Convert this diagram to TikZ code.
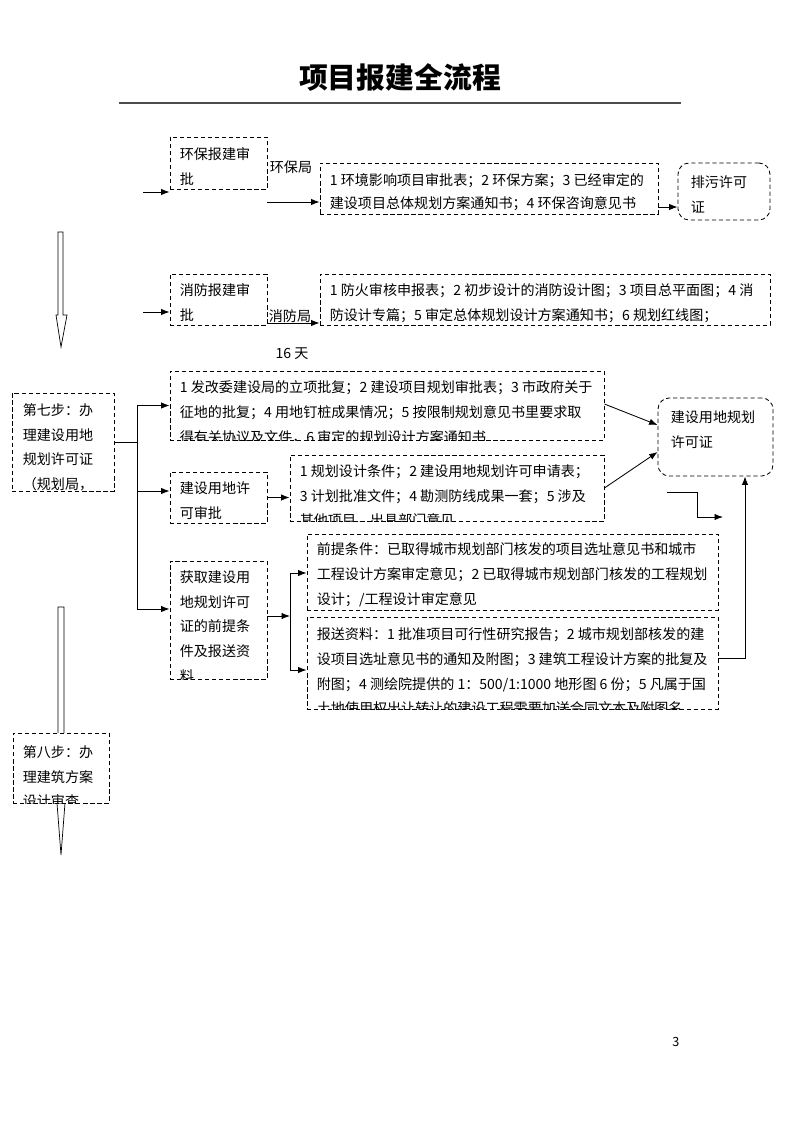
\documentclass[tikz,border=0pt]{standalone}
\usepackage{fontspec}
\setmainfont{Noto Sans CJK SC}
\usetikzlibrary{arrows.meta,fit,calc}

\tikzset{
  dbox/.style={draw,dash pattern=on 3pt off 2pt,line width=0.6pt,inner sep=0pt,fill=white},
  rbox/.style={dbox,rounded corners=8pt},
  txt/.style={anchor=north west,inner sep=0pt,align=left,font=\fontsize{10pt}{17.5pt}\selectfont},
  lbl/.style={inner sep=0pt,font=\fontsize{10pt}{12pt}\selectfont},
  arr/.style={-{Latex[length=6pt,width=4.5pt]},line width=0.6pt},
  hollow/.style={draw,fill=white,line width=0.5pt},
}

\begin{document}
\begin{tikzpicture}[x=0.025cm,y=-0.025cm]
\useasboundingbox (0,0) rectangle (800,1132);

% title
\node[font=\fontsize{20.5pt}{24pt}\selectfont\bfseries] (title) at (400,77) {项目报建全流程};
\draw[line width=0.8pt,black!70] (119,103) -- (681,103);

% hollow arrows between the steps
\draw[hollow] (58,232) -- (63,232) -- (63,315) -- (67,315) -- (61,347) -- (56,315) -- (58,315) -- cycle;
\draw[hollow] (58,607) -- (64,607) -- (64,790) -- (66,790) -- (61,855) -- (56,790) -- (58,790) -- cycle;

% boxes
\node[dbox,fit={(170,137) (267,189)}] (hbsp) {};
\node[dbox,fit={(320,163) (658,214)}] (hbzl) {};
\node[rbox,fit={(678,163) (770,220)}] (pwxk) {};
\node[dbox,fit={(170,274) (267,325)}] (xfsp) {};
\node[dbox,fit={(320,274) (770,325)}] (xfzl) {};
\node[dbox,fit={(12,393) (114,491)}] (step7) {};
\node[dbox,fit={(170,371) (604,440)}] (lxzl) {};
\node[dbox,fit={(170,472) (267,523)}] (ydsp) {};
\node[dbox,fit={(290,455) (604,521)}] (ydzl) {};
\node[rbox,fit={(658,398) (773,476)}] (ydxk) {};
\node[dbox,fit={(170,561) (267,679)}] (hqtj) {};
\node[dbox,fit={(307,534) (718,610)}] (qttj) {};
\node[dbox,fit={(307,617) (718,709)}] (bszl) {};
\node[dbox,fit={(13,733) (109,803)}] (step8) {};

% texts in the boxes
\node[txt] (hbspt) at ($(hbsp.north west)+(10,11)$) {环保报建审\\批};
\node[txt,font=\fontsize{10pt}{16.5pt}\selectfont] (hbzlt) at ($(hbzl.north west)+(10,11)$) {1 环境影响项目审批表；2 环保方案；3 已经审定的\\建设项目总体规划方案通知书；4 环保咨询意见书};
\node[txt] (pwxkt) at ($(pwxk.north west)+(13,13)$) {排污许可\\证};
\node[txt] (xfspt) at ($(xfsp.north west)+(10,10)$) {消防报建审\\批};
\node[txt] (xfzlt) at ($(xfzl.north west)+(10,10)$) {1 防火审核申报表；2 初步设计的消防设计图；3 项目总平面图；4 消\\防设计专篇；5 审定总体规划设计方案通知书；6 规划红线图；};
\begin{scope}
  \clip (step7.south west) rectangle (step7.north east);
  \node[txt] (step7t) at ($(step7.north west)+(11,11)$) {第七步：办\\理建设用地\\规划许可证\\（规划局，};
\end{scope}
\begin{scope}
  \clip (lxzl.south west) rectangle (lxzl.north east);
  \node[txt] (lxzlt) at ($(lxzl.north west)+(10,10)$) {1 发改委建设局的立项批复；2 建设项目规划审批表；3 市政府关于\\征地的批复；4 用地钉桩成果情况；5 按限制规划意见书里要求取\\得有关协议及文件，6 审定的规划设计方案通知书};
\end{scope}
\node[txt] (ydspt) at ($(ydsp.north west)+(10,10)$) {建设用地许\\可审批};
\begin{scope}
  \clip (ydzl.south west) rectangle (ydzl.north east);
  \node[txt] (ydzlt) at ($(ydzl.north west)+(10,10)$) {1 规划设计条件；2 建设用地规划许可申请表；\\3 计划批准文件；4 勘测防线成果一套；5 涉及\\其他项目，出具部门意见};
\end{scope}
\node[txt] (ydxkt) at ($(ydxk.north west)+(13,13)$) {建设用地规划\\许可证};
\begin{scope}
  \clip (hqtj.south west) rectangle (hqtj.north east);
  \node[txt] (hqtjt) at ($(hqtj.north west)+(10,10)$) {获取建设用\\地规划许可\\证的前提条\\件及报送资\\料};
\end{scope}
\node[txt] (qttjt) at ($(qttj.north west)+(10,9)$) {前提条件：已取得城市规划部门核发的项目选址意见书和城市\\工程设计方案审定意见；2 已取得城市规划部门核发的工程规划\\设计；/工程设计审定意见};
\begin{scope}
  \clip (bszl.south west) rectangle (bszl.north east);
  \node[txt] (bszlt) at ($(bszl.north west)+(10,11)$) {报送资料：1 批准项目可行性研究报告；2 城市规划部核发的建\\设项目选址意见书的通知及附图；3 建筑工程设计方案的批复及\\附图；4 测绘院提供的 1：500/1:1000 地形图 6 份；5 凡属于国\\土地使用权出让转让的建设工程需要加送合同文本及附图名};
\end{scope}
\begin{scope}
  \clip (step8.south west) rectangle (step8.north east);
  \node[txt] (step8t) at ($(step8.north west)+(10,13)$) {第八步：办\\理建筑方案\\设计审查};
\end{scope}

% labels
\node[lbl] (hbj) at (291,167) {环保局};
\node[lbl] (xfj) at (290,316) {消防局};
\node[lbl] (days) at (292,354) {16 天};
\node[font=\fontsize{9pt}{11pt}\selectfont] (page) at (676,1042) {3};

% connectors
\coordinate (inhb) at (143,192);
\coordinate (inxf) at (143,312);
\coordinate (jf) at (137,442);
\coordinate (jk) at (290,616);
\coordinate (zs) at (667,492);
\coordinate (ze) at (723,517);

\draw[arr] (inhb) -- (inhb -| hbsp.west);
\draw[arr] (hbsp.east |- 0,202) -- (hbzl.west |- 0,202);
\draw[arr] (hbzl.east |- 0,207) -- (pwxk.west |- 0,207);
\draw[arr] (inxf) -- (inxf -| xfsp.west);
\draw[arr] (xfsp.east |- 0,323) -- (xfzl.west |- 0,323);

\draw[line width=0.6pt] (step7.east |- jf) -- (jf);
\draw[arr] (jf) |- (lxzl.west);
\draw[arr] (jf) |- (ydsp.west |- 0,491);
\draw[arr] (jf) |- (hqtj.west |- 0,609);

\draw[arr] (ydsp.east) -- (ydsp.east -| ydzl.west);
\draw[arr] (lxzl.east |- 0,404) -- (ydxk.west |- 0,425);
\draw[arr] (ydzl.east |- 0,488) -- (ydxk.west |- 0,452);
\draw[arr] (zs) -- ++(30,0) |- (ze);

\draw[arr] (hqtj.east |- jk) -- (jk);
\draw[arr] (jk) |- (qttj.west |- 0,573);
\draw[arr] (jk) |- (bszl.west |- 0,670);
\draw[arr] (bszl.east |- 0,658) -| (ydxk.south -| 745,0);

\end{tikzpicture}
\end{document}
